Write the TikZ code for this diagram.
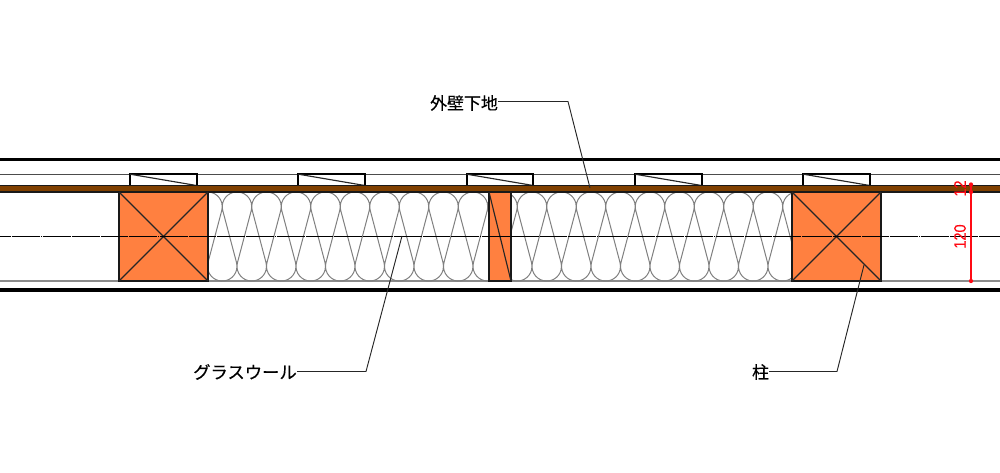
\documentclass[tikz,border=0pt]{standalone}
\usepackage{fontspec}
\setmainfont{Liberation Sans}
\newfontfamily\cjk[FakeBold=0.35]{Noto Sans CJK JP}
\newfontfamily\dimfont[FakeBold=0.25]{Liberation Sans}
\definecolor{wood}{RGB}{255,128,64}
\definecolor{ply}{RGB}{128,64,0}
\definecolor{redline}{RGB}{255,10,20}
\newcommand{\woolwave}[2]{%
  % #1 = first top circle centre, #2 = number of periods
  \draw[woolline] (#1-29.5+14.26,266.3-3.77)
  \foreach \k in {1,...,#2}{
    -- ({#1+29.5*(\k-1)-14.26},{206.7+3.77}) arc[start angle=165.2,end angle=374.8,radius=14.75]
    -- ({#1+29.5*(\k-1)+14.75-14.26},{266.3-3.77}) arc[start angle=194.8,end angle=-14.8,radius=14.75]
  };
}
\tikzset{
  px/.style={x=0.75pt,y=-0.75pt},
  heavy/.style={line width=2.4pt,black},
  thinline/.style={line width=0.8pt,black!70},
  woolline/.style={line width=0.75pt,black!50},
  center/.style={line width=1.05pt,black,dash pattern=on 20.3pt off 0.45pt on 0.75pt off 0.45pt,dash phase=12pt},
  timber/.style={draw=black!90,fill=wood,line width=1.3pt,rectangle,inner sep=0pt,outer sep=0pt,anchor=north west},
  cross/.style={line width=0.85pt,black!85},
  furring/.style={draw=black,fill=white,line width=1.4pt,rectangle,inner sep=0pt,outer sep=0pt,anchor=north west,minimum width=50pt,minimum height=8.5pt},
  leader/.style={line width=0.7pt,black!85},
  label/.style={font=\cjk,inner sep=0pt,anchor=center,black},
  dim/.style={line width=0.9pt,redline},
  dimtext/.style={font=\dimfont\fontsize{12.5pt}{12.5pt}\selectfont,text=redline,inner sep=0pt,rotate=90,xscale=0.87},
  dimdot/.style={circle,fill=redline,inner sep=0pt,minimum size=3.2pt}
}
\begin{document}
\begin{tikzpicture}[px]
\useasboundingbox (0,0) rectangle (1000,473);
\fill[white] (0,0) rectangle (1000,473);
% sheets
\draw[heavy] (0,159.5) -- (1000,159.5);
\draw[thinline] (0,174.5) -- (1000,174.5);
\draw[line width=0.85pt,black!45] (0,281) -- (1000,281);
\draw[heavy] (0,290) -- (1000,290);
% wool
\begin{scope}
\clip (208,192) rectangle (489,282);
\woolwave{207.5}{11}
\end{scope}
\begin{scope}
\clip (511,192) rectangle (792,282);
\woolwave{502.5}{11}
\end{scope}
% furring
\foreach \fx/\nm in {130/fa,298.3/fb,466.7/fc,635/fd,803.3/fe}{
  \node[furring] (\nm) at (\fx,174.2) {};
  \draw[cross] (\nm.north west) -- (\nm.south east);
}
% plywood
\draw[line width=1.2pt,black!90,fill=ply] (-2,185.5) rectangle (1002,192);
% timber
\node[timber,minimum width=66.75pt,minimum height=66.75pt] (cola) at (119,192) {};
\node[timber,minimum width=16.5pt,minimum height=66.75pt] (stud) at (489,192) {};
\node[timber,minimum width=66.75pt,minimum height=66.75pt] (colb) at (792,192) {};
\draw[cross] (cola.north west) -- (cola.south east) (cola.north east) -- (cola.south west);
\draw[cross] (stud.north west) -- (stud.south east);
\draw[cross] (colb.north west) -- (colb.south east) (colb.north east) -- (colb.south west);
% centre line
\draw[center] (0,236.5) -- (1000,236.5);
% dimensions
\coordinate (da) at (971,184.5);
\coordinate (db) at (971,192);
\coordinate (dc) at (971,281);
\draw[dim] (da) -- (dc);
\node[dimdot] at (da) {};
\node[dimdot] at (db) {};
\node[dimdot] at (dc) {};
\node[dimtext] (d12) at (960,188.5) {12};
\node[dimtext] (d120) at (960,236.5) {120};
% labels
\node[label] (gaiheki) at (464,103) {\fontsize{12.7pt}{12.7pt}\selectfont 外壁下地};
\node[label] (wool) at (245,372) {\fontsize{13pt}{13pt}\selectfont グラスウール};
\node[label] (hashira) at (760.5,372) {\fontsize{12.7pt}{12.7pt}\selectfont 柱};
\coordinate (ca) at (568,101.5);
\coordinate (cb) at (366,371.5);
\coordinate (cc) at (837,371.5);
\coordinate (pa) at (590,188);
\coordinate (pb) at (402,236);
\coordinate (pc) at (864,265);
\draw[leader] (gaiheki.east |- ca) -- (ca) -- (pa);
\draw[leader] (wool.east |- cb) -- (cb) -- (pb);
\draw[leader] (hashira.east |- cc) -- (cc) -- (pc);
\end{tikzpicture}
\end{document}
